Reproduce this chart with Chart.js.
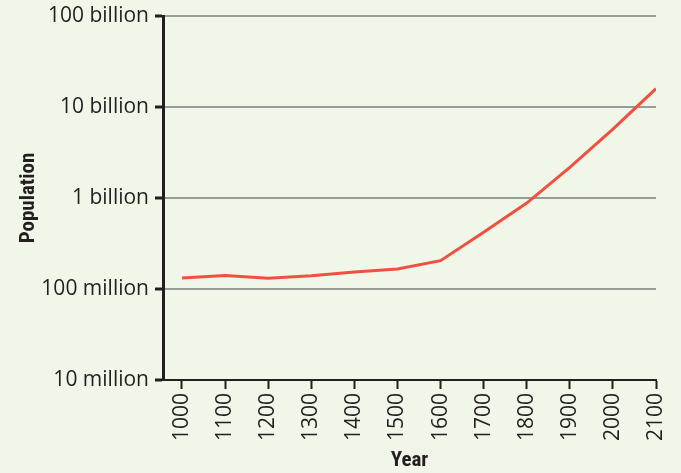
<!DOCTYPE html>
<html>
<head>
<meta charset="utf-8">
<script src="https://cdn.jsdelivr.net/npm/chart.js@4/dist/chart.umd.min.js"></script>
<style>
  html, body { margin: 0; padding: 0; background: #f0f6e8; }
  #wrap { width: 681px; height: 473px; position: relative; }
  canvas { display: block; }
</style>
</head>
<body>
<div id="wrap"><canvas id="c" width="681" height="473"></canvas></div>
<script>
const years = [1000, 1100, 1200, 1300, 1400, 1500, 1600, 1700, 1800, 1900, 2000, 2100];
const population = [1.32e8, 1.41e8, 1.31e8, 1.40e8, 1.54e8, 1.66e8, 2.05e8, 4.2e8, 8.8e8, 2.17e9, 5.7e9, 1.59e10];
const yTickValues = [1e7, 1e8, 1e9, 1e10, 1e11];
const yTickLabels = ['10 million', '100 million', '1 billion', '10 billion', '100 billion'];

const ink = '#231f20';
const bgPlugin = {
  id: 'bg',
  beforeDraw(chart) {
    const ctx = chart.ctx;
    ctx.save();
    ctx.fillStyle = '#f0f6e8';
    ctx.fillRect(0, 0, chart.width, chart.height);
    ctx.restore();
  }
};
const titleFont = { family: "'Liberation Sans Narrow', 'Roboto Condensed', Roboto, sans-serif", size: 21, weight: 'bold' };
const tickFont = { family: "'Open Sans', sans-serif", size: 21 };

new Chart(document.getElementById('c'), {
  type: 'line',
  data: {
    datasets: [{
      data: years.map((y, i) => ({ x: y, y: population[i] })),
      borderColor: '#ef5040',
      borderWidth: 3,
      pointRadius: 0,
      tension: 0,
      fill: false
    }]
  },
  options: {
    responsive: false,
    animation: false,
    devicePixelRatio: 1,
    layout: { padding: { top: 16, right: 25, left: 0, bottom: 0 } },
    plugins: { legend: { display: false }, tooltip: { enabled: false } },
    scales: {
      x: {
        type: 'linear',
        min: 956,
        max: 2100,
        afterBuildTicks(scale) { scale.ticks = years.map(v => ({ value: v })); },
        afterFit(scale) { scale.height = 93; scale.paddingLeft = 0; scale.paddingRight = 0; },
        ticks: {
          color: ink,
          font: tickFont,
          minRotation: 90,
          maxRotation: 90,
          padding: 4,
          autoSkip: false,
          callback: v => String(v)
        },
        grid: { drawOnChartArea: false, tickColor: ink, tickLength: 9, tickWidth: 2 },
        border: { color: ink, width: 2 },
        title: {
          display: true,
          text: 'Year',
          color: ink,
          font: titleFont,
          padding: { top: 0, bottom: 0 }
        }
      },
      y: {
        type: 'logarithmic',
        min: 1e7,
        max: 1e11,
        afterBuildTicks(scale) { scale.ticks = yTickValues.map(v => ({ value: v })); },
        afterFit(scale) { scale.width = 163; scale.paddingTop = 0; scale.paddingBottom = 0; },
        ticks: {
          color: ink,
          font: tickFont,
          padding: 6,
          callback: (v) => { const i = yTickValues.indexOf(v); return i >= 0 ? yTickLabels[i] : ''; }
        },
        grid: { color: '#9a9c98', lineWidth: 2, tickColor: ink, tickLength: 8, tickWidth: 3 },
        border: { color: ink, width: 3 },
        title: {
          display: true,
          text: 'Population',
          color: ink,
          font: titleFont,
          padding: { top: 16, bottom: 0 }
        }
      }
    }
  },
  plugins: [bgPlugin]
});
</script>
</body>
</html>
